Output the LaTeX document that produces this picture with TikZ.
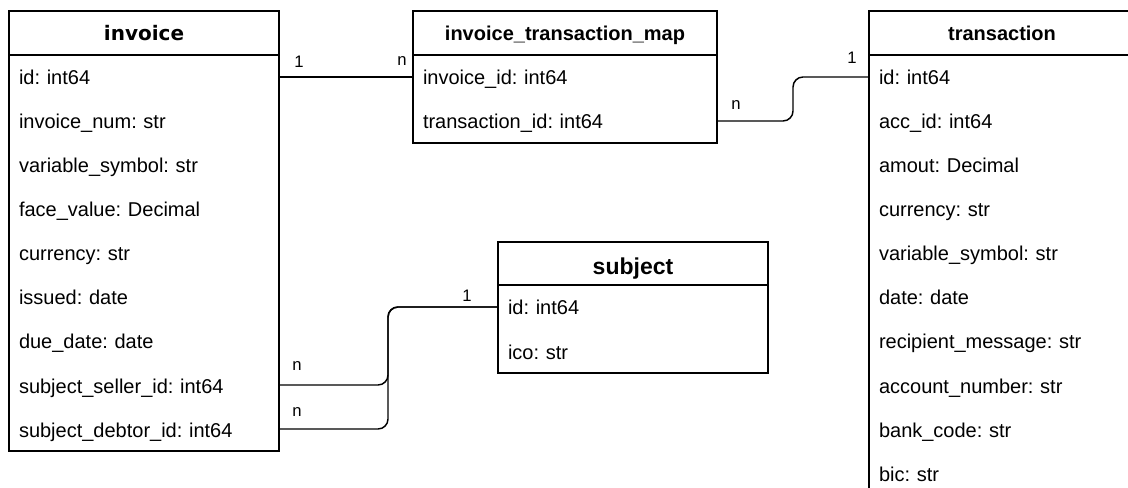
\documentclass[tikz,border=0pt]{standalone}
\usepackage{fontspec}
\setmainfont{Liberation Sans}
\newfontfamily\dejavu{DejaVu Sans}
\usetikzlibrary{calc}
\frenchspacing

\tikzset{
  ln/.style={line width=1.1pt},
  hdr/.style={ln, draw, anchor=north west, minimum height=44*0.75pt, inner sep=0pt, outer sep=0pt,
    text height=15pt, text depth=3pt, font=\fontsize{15}{18}\selectfont\bfseries},
  row/.style={anchor=north west, minimum height=44*0.75pt, inner ysep=0pt, inner xsep=7.5pt,
    outer sep=0pt, text height=15pt, text depth=3pt, align=left, font=\fontsize{15}{18}\selectfont},
  lbl/.style={inner sep=0pt, font=\fontsize{12.5}{14}\selectfont},
  conn/.style={ln, rounded corners=7.5pt},
}

\begin{document}
\begin{tikzpicture}[x=0.75pt,y=-0.75pt]
\clip (0,0) rectangle (1128,488);
\fill[white] (0,0) rectangle (1128,488);

% invoice table
\node[hdr, minimum width=270*0.75pt, font=\fontsize{15}{18}\selectfont\dejavu\bfseries] (inv) at (9,11) {invoice};
\node[row, text width=250*0.75pt] (inv1) at (inv.south west) {id: int64};
\node[row, text width=250*0.75pt] (inv2) at (inv1.south west) {invoice\_num: str};
\node[row, text width=250*0.75pt] (inv3) at (inv2.south west) {variable\_symbol: str};
\node[row, text width=250*0.75pt] (inv4) at (inv3.south west) {face\_value: Decimal};
\node[row, text width=250*0.75pt] (inv5) at (inv4.south west) {currency: str};
\node[row, text width=250*0.75pt] (inv6) at (inv5.south west) {issued: date};
\node[row, text width=250*0.75pt] (inv7) at (inv6.south west) {due\_date: date};
\node[row, text width=250*0.75pt] (inv8) at (inv7.south west) {subject\_seller\_id: int64};
\node[row, text width=250*0.75pt] (inv9) at (inv8.south west) {subject\_debtor\_id: int64};
\draw[ln] (inv.north west) rectangle (inv9.south east);

% invoice_transaction_map table
\node[hdr, minimum width=304*0.75pt] (map) at (413,11) {invoice\_transaction\_map};
\node[row, text width=284*0.75pt] (map1) at (map.south west) {invoice\_id: int64};
\node[row, text width=284*0.75pt] (map2) at (map1.south west) {transaction\_id: int64};
\draw[ln] (map.north west) rectangle (map2.south east);

% transaction table
\node[hdr, minimum width=266*0.75pt] (tr) at (869,11) {transaction};
\node[row, text width=246*0.75pt] (tr1) at (tr.south west) {id: int64};
\node[row, text width=246*0.75pt] (tr2) at (tr1.south west) {acc\_id: int64};
\node[row, text width=246*0.75pt] (tr3) at (tr2.south west) {amout: Decimal};
\node[row, text width=246*0.75pt] (tr4) at (tr3.south west) {currency: str};
\node[row, text width=246*0.75pt] (tr5) at (tr4.south west) {variable\_symbol: str};
\node[row, text width=246*0.75pt] (tr6) at (tr5.south west) {date: date};
\node[row, text width=246*0.75pt] (tr7) at (tr6.south west) {recipient\_message: str};
\node[row, text width=246*0.75pt] (tr8) at (tr7.south west) {account\_number: str};
\node[row, text width=246*0.75pt] (tr9) at (tr8.south west) {bank\_code: str};
\node[row, text width=246*0.75pt] (tr10) at (tr9.south west) {bic: str};
\draw[ln] (tr.north west) rectangle (tr10.south east);

% subject table
\node[hdr, minimum width=270*0.75pt, minimum height=43*0.75pt, text height=18pt, text depth=2.2pt,
  font=\fontsize{17.25}{20}\selectfont\bfseries] (sub) at (498,242) {subject};
\node[row, text width=250*0.75pt] (sub1) at (sub.south west) {id: int64};
\node[row, text width=250*0.75pt] (sub2) at (sub1.south west) {ico: str};
\draw[ln] (sub.north west) rectangle (sub2.south east);

% relations
\draw[conn] (inv1.east) -- (map1.west);
\draw[conn] (map2.east) -- ($(map2.east)+(76,0)$) |- (tr1.west);
\draw[conn] (inv9.east) -- ($(inv9.east)+(109,0)$) |- (sub1.west);
\draw[conn] (inv8.east) -- ($(inv8.east)+(109,0)$) |- (sub1.west);

% cardinalities
\node[lbl] (c1) at (299,62) {1};
\node[lbl] (c2) at (402,61) {n};
\node[lbl] (c3) at (736,105) {n};
\node[lbl] (c4) at (852,58) {1};
\node[lbl] (c5) at (467,296) {1};
\node[lbl] (c6) at (297,366) {n};
\node[lbl] (c7) at (297,412) {n};
\end{tikzpicture}
\end{document}
